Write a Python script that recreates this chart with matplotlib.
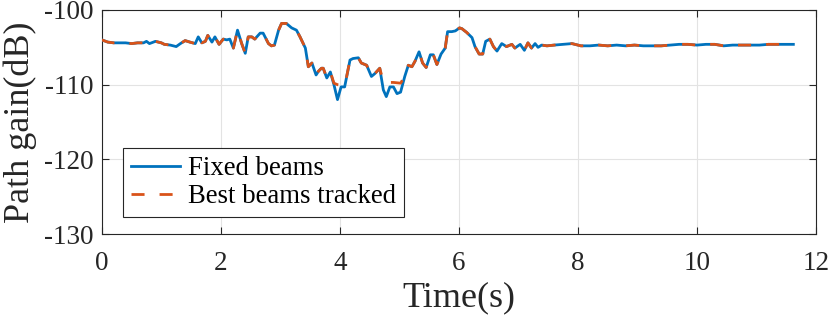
import matplotlib
matplotlib.use("Agg")
import matplotlib.pyplot as plt
import numpy as np

time_s = [0.00, 0.10, 0.20, 0.30, 0.40, 0.50, 0.60, 0.70, 0.75, 0.80, 0.90, 1.00, 1.05, 1.15, 1.25,
          1.32, 1.40, 1.48, 1.57, 1.62, 1.68, 1.74, 1.78, 1.85, 1.90, 1.97, 2.04, 2.10, 2.15, 2.21,
          2.28, 2.35, 2.41, 2.46, 2.52, 2.57, 2.66, 2.71, 2.80, 2.85, 2.90, 2.97, 3.02, 3.10, 3.19,
          3.27, 3.33, 3.42, 3.47, 3.53, 3.60, 3.64, 3.69, 3.72, 3.78, 3.84, 3.90, 3.96, 4.02, 4.08,
          4.17, 4.22, 4.31, 4.36, 4.45, 4.53, 4.59, 4.67, 4.73, 4.78, 4.84, 4.90, 4.96, 5.02, 5.09,
          5.15, 5.21, 5.26, 5.33, 5.39, 5.45, 5.52, 5.57, 5.63, 5.70, 5.77, 5.81, 5.88, 5.94, 6.01,
          6.05, 6.13, 6.22, 6.27, 6.34, 6.40, 6.45, 6.52, 6.58, 6.64, 6.72, 6.80, 6.89, 6.94, 7.03,
          7.10, 7.16, 7.22, 7.28, 7.33, 7.39, 7.48, 7.60, 7.75, 7.90, 8.05, 8.20, 8.35, 8.50, 8.65,
          8.80, 8.95, 9.10, 9.25, 9.40, 9.55, 9.70, 9.85, 10.00, 10.15, 10.30, 10.45, 10.60, 10.75,
          10.90, 11.05, 11.20, 11.35, 11.50, 11.62]

fixed_beams = [-104.0, -104.3, -104.4, -104.4, -104.4, -104.5, -104.4, -104.4, -104.2, -104.5, -104.2, -104.4, -104.6, -104.7, -104.9,
               -104.5, -104.1, -104.3, -104.5, -103.6, -104.4, -104.2, -103.4, -104.3, -103.6, -104.6, -103.9, -104.0, -103.9, -105.1,
               -102.7, -104.5, -105.8, -103.6, -103.6, -103.9, -103.1, -103.1, -104.5, -104.8, -104.7, -102.7, -101.8, -101.8, -102.4,
               -102.7, -103.6, -105.1, -107.6, -107.1, -108.7, -108.2, -107.8, -107.8, -109.1, -108.3, -110.0, -112.0, -110.3, -110.3,
               -106.7, -106.5, -106.4, -107.1, -107.4, -108.9, -108.5, -107.8, -110.7, -111.6, -110.3, -110.3, -111.2, -111.0, -108.9,
               -107.4, -107.6, -106.9, -105.6, -107.1, -107.7, -106.0, -106.0, -107.3, -105.9, -105.1, -102.9, -102.9, -102.8, -102.4,
               -102.5, -103.0, -103.7, -104.9, -105.9, -105.9, -104.2, -103.9, -104.9, -105.5, -104.5, -104.9, -104.6, -105.1, -104.6,
               -105.4, -104.4, -105.1, -104.5, -105.0, -104.7, -104.8, -104.7, -104.6, -104.5, -104.8, -104.8, -104.7, -104.8, -104.7,
               -104.8, -104.7, -104.8, -104.8, -104.8, -104.7, -104.6, -104.6, -104.7, -104.6, -104.6, -104.8, -104.7, -104.7,
               -104.7, -104.7, -104.6, -104.6, -104.6, -104.6]

best_tracked = [-104.0, -104.3, -104.4, -104.4, -104.4, -104.5, -104.4, -104.4, -104.2, -104.5, -104.2, -104.4, -104.6, -104.7, -104.9,
                -104.5, -104.1, -104.3, -104.5, -103.6, -104.4, -104.2, -103.4, -104.3, -103.6, -104.6, -103.9, -104.0, -103.9, -105.1,
                -102.7, -104.5, -105.8, -103.6, -103.6, -103.9, -103.1, -103.1, -104.5, -104.8, -104.7, -102.7, -101.8, -101.8, -102.4,
                -102.7, -103.6, -105.1, -107.6, -107.1, -108.7, -108.2, -107.8, -107.8, -109.1, -108.3, -109.8, -110.0, -110.1, -110.2,
                -106.7, -106.5, -106.4, -107.1, -107.4, -108.9, -108.5, -107.8, -109.6, -109.65, -109.7, -109.7, -109.75, -109.8, -108.9,
                -107.4, -107.6, -106.9, -105.6, -107.1, -107.7, -106.0, -106.0, -107.3, -105.9, -105.1, -102.9, -102.9, -102.8, -102.4,
                -102.5, -103.0, -103.7, -104.9, -105.9, -105.9, -104.2, -103.9, -104.9, -105.5, -104.5, -104.9, -104.6, -105.1, -104.6,
                -105.4, -104.4, -105.1, -104.5, -105.0, -104.7, -104.8, -104.7, -104.6, -104.5, -104.8, -104.8, -104.7, -104.8, -104.7,
                -104.8, -104.7, -104.8, -104.8, -104.8, -104.7, -104.6, -104.6, -104.7, -104.6, -104.6, -104.8, -104.7, -104.7,
                -104.7, -104.7, -104.6, -104.6, -104.6, -104.6]

x_ticks = [0, 2, 4, 6, 8, 10, 12]
y_ticks = [-130, -120, -110, -100]
labels = ["Fixed beams", "Best beams tracked"]

plt.rcParams['font.family'] = ['Liberation Serif', 'DejaVu Serif']
plt.rcParams['axes.unicode_minus'] = False

fig = plt.figure(figsize=(8.3, 3.18), dpi=100)
ax = fig.add_axes([0.1227, 0.264, 0.8604, 0.7046])

ax.plot(time_s, fixed_beams, color='#0072BD', lw=2.0, label=labels[0], zorder=3)
ax.plot(time_s, best_tracked, color='#D95319', lw=2.0, dashes=(4.7, 5.4), label=labels[1], zorder=4)

ax.set_xlim(0, 12)
ax.set_ylim(-130, -100)
ax.set_xticks(x_ticks)
ax.set_yticks(y_ticks)
ax.set_xticklabels([str(v) for v in x_ticks])
ax.set_yticklabels([str(v) for v in y_ticks])
ax.grid(True, color='#e3e3e3', lw=0.8)
ax.set_axisbelow(True)
for s in ax.spines.values():
    s.set_color('#262626')
    s.set_linewidth(0.8)
ax.tick_params(direction='in', top=True, right=True, length=5, width=0.8, color='#262626',
               labelsize=19.5, labelcolor='#262626')
ax.tick_params(axis='y', pad=6)
ax.tick_params(axis='x', pad=12)
ax.set_xlabel('Time(s)', fontsize=26, color='#262626', labelpad=4)
ax.set_ylabel('Path gain(dB)', fontsize=26, color='#262626', labelpad=5)

leg = ax.legend(loc='lower left', bbox_to_anchor=(0.030, 0.0746), borderaxespad=0,
                fontsize=19.3, handlelength=1.83, handletextpad=0.27, borderpad=0.3,
                labelspacing=0.12, fancybox=False, framealpha=1)
leg.get_frame().set_edgecolor('#262626')
leg.get_frame().set_linewidth(0.8)

fig.savefig('out.png', dpi=100)
